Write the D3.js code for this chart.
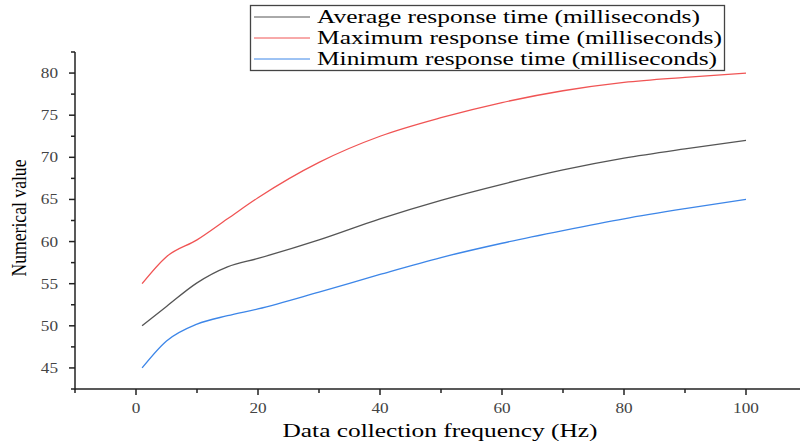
<!DOCTYPE html>
<html>
<head>
<meta charset="utf-8">
<script src="https://cdn.jsdelivr.net/npm/d3@7"></script>
<style>
  body { margin: 0; background: #fff; }
  svg { display: block; }
</style>
</head>
<body>
<div id="chart"></div>
<script>
// frequency values (Hz)
var freq = [1, 5, 10, 15, 20, 30, 40, 50, 60, 70, 80, 90, 100];
// response times (ms)
var avgTime = [50, 52.3, 55.1, 57, 58, 60.2, 62.7, 64.9, 66.8, 68.5, 69.9, 71, 72];
var maxTime = [55, 58.2, 60.2, 62.7, 65.2, 69.4, 72.5, 74.7, 76.5, 77.9, 78.9, 79.5, 80];
var minTime = [45, 48.2, 50.2, 51.2, 52, 54, 56.1, 58.1, 59.8, 61.3, 62.7, 63.9, 65];

var seriesNames = ["Average response time (milliseconds)",
                   "Maximum response time (milliseconds)",
                   "Minimum response time (milliseconds)"];
var seriesColors = ["#555555", "#f05454", "#3d86e8"];
var xTicks = [0, 20, 40, 60, 80, 100];
var yTicks = [45, 50, 55, 60, 65, 70, 75, 80];

var width = 800, height = 441;
var margin = { top: 52, right: 0, bottom: 52, left: 75 };

var svg = d3.select("#chart").append("svg")
  .attr("width", width)
  .attr("height", height);

// scales
var x = d3.scaleLinear().domain([-10, 110]).range([75, 807]);
var y = d3.scaleLinear().domain([42.5, 82.5]).range([height - margin.bottom, margin.top]);

var axisColor = "#222";

// tick label: wide serif digits
function tickLabel(sel) {
  sel.attr("font-family", "Liberation Serif")
    .attr("font-size", 14)
    .attr("fill", "#444")
    .attr("textLength", d => String(d).length * 8.6)
    .attr("lengthAdjust", "spacingAndGlyphs")
    .text(d => d);
}

// x axis
var xAxis = svg.append("g").attr("transform", "translate(0," + (height - margin.bottom) + ")");
xAxis.append("line")
  .attr("x1", x(-10)).attr("x2", 800)
  .attr("stroke", axisColor).attr("stroke-width", 1.5);
xAxis.selectAll(".minor")
  .data(d3.range(-10, 110, 10))
  .enter().append("line")
  .attr("x1", d => x(d)).attr("x2", d => x(d))
  .attr("y1", 0).attr("y2", d => xTicks.includes(d) ? 6 : 4)
  .attr("stroke", axisColor).attr("stroke-width", 1.5);
xAxis.selectAll(".lab")
  .data(xTicks)
  .enter().append("text")
  .attr("x", d => x(d)).attr("y", 24)
  .attr("text-anchor", "middle")
  .call(tickLabel);

// y axis
var yAxis = svg.append("g").attr("transform", "translate(" + margin.left + ",0)");
yAxis.append("line")
  .attr("y1", y(42.5) + 0.75).attr("y2", y(82.5))
  .attr("stroke", axisColor).attr("stroke-width", 1.5);
yAxis.selectAll(".minor")
  .data(d3.range(42.5, 83, 2.5))
  .enter().append("line")
  .attr("y1", d => y(d)).attr("y2", d => y(d))
  .attr("x1", 0).attr("x2", d => yTicks.includes(d) ? -6 : -4)
  .attr("stroke", axisColor).attr("stroke-width", 1.5);
yAxis.selectAll(".lab")
  .data(yTicks)
  .enter().append("text")
  .attr("x", -17).attr("y", d => y(d) + 5)
  .attr("text-anchor", "end")
  .call(tickLabel);

// axis titles
svg.append("text")
  .attr("x", 440).attr("y", 437)
  .attr("text-anchor", "middle")
  .attr("font-family", "Liberation Serif")
  .attr("font-size", 18)
  .attr("textLength", 315)
  .attr("lengthAdjust", "spacingAndGlyphs")
  .text("Data collection frequency (Hz)");

svg.append("text")
  .attr("transform", "translate(26,218) rotate(-90)")
  .attr("text-anchor", "middle")
  .attr("font-family", "Liberation Serif")
  .attr("font-size", 21)
  .attr("textLength", 117)
  .attr("lengthAdjust", "spacingAndGlyphs")
  .text("Numerical value");

// curves
var line = d3.line()
  .x((d, i) => x(freq[i]))
  .y(d => y(d))
  .curve(d3.curveMonotoneX);

[avgTime, maxTime, minTime].forEach(function(vals, i) {
  svg.append("path")
    .attr("d", line(vals))
    .attr("fill", "none")
    .attr("stroke", seriesColors[i])
    .attr("stroke-width", 1.3);
});

// legend
var legend = svg.append("g");
legend.append("rect")
  .attr("x", 250.5).attr("y", 5.5)
  .attr("width", 474).attr("height", 65)
  .attr("fill", "#fff")
  .attr("stroke", "#444").attr("stroke-width", 1.3);
var textLens = [383, 405, 400];
seriesNames.forEach(function(name, i) {
  var ry = 17 + i * 21;
  legend.append("line")
    .attr("x1", 254).attr("x2", 310)
    .attr("y1", ry).attr("y2", ry)
    .attr("stroke", seriesColors[i]).attr("stroke-width", 1);
  legend.append("text")
    .attr("x", 317).attr("y", ry + 6)
    .attr("font-family", "Liberation Serif")
    .attr("font-size", 18)
    .attr("textLength", textLens[i])
    .attr("lengthAdjust", "spacingAndGlyphs")
    .text(name);
});
</script>
</body>
</html>
